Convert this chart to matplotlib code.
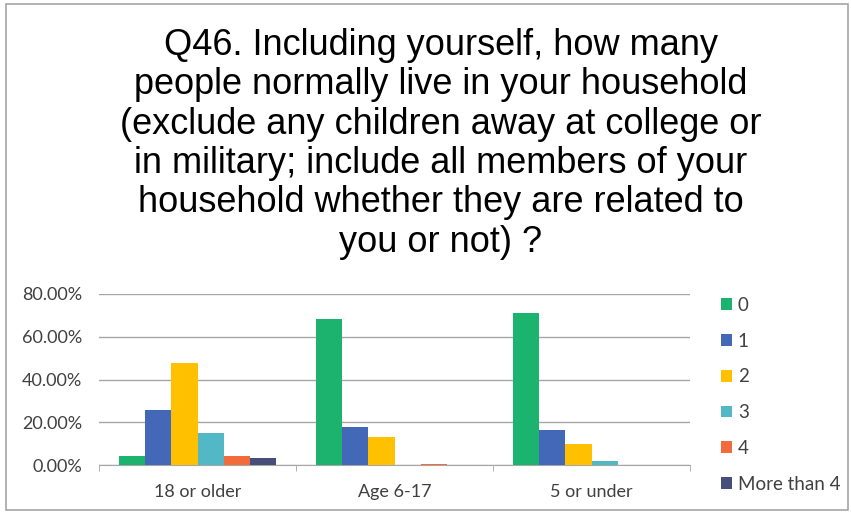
import matplotlib
matplotlib.use("Agg")
import matplotlib.pyplot as plt
import numpy as np

categories = ["18 or older", "Age 6-17", "5 or under"]
series_names = ["0", "1", "2", "3", "4", "More than 4"]
values = {
    "0": [4.0, 68.1, 71.2],
    "1": [25.5, 18.0, 16.2],
    "2": [47.9, 13.1, 10.0],
    "3": [15.2, 0.0, 2.0],
    "4": [4.0, 0.4, 0.0],
    "More than 4": [3.3, 0.0, 0.0],
}
colors = ["#1BB36E", "#4468B8", "#FFC000", "#52B8C6", "#F26B3A", "#474E7C"]
title = ("Q46. Including yourself, how many\n"
         "people normally live in your household\n"
         "(exclude any children away at college or\n"
         "in military; include all members of your\n"
         "household whether they are related to\n"
         "you or not) ?")

fig = plt.figure(figsize=(8.51, 5.13), dpi=100)
# outer chart border
fig.patches.append(plt.Rectangle((6 / 851, 3 / 513), 842 / 851, 506 / 513, transform=fig.transFigure,
                                 fill=False, edgecolor="#A6A6A6", linewidth=1.2))

fig.text(441 / 851, 1 - 28 / 513, title, ha="center", va="top", fontsize=26,
         family="Liberation Sans", linespacing=1.16, color="black")

ax = fig.add_axes([99 / 851, 1 - 465 / 513, 591 / 851, 171 / 513])
x = np.arange(len(categories))
w = 0.8 / len(series_names)
for i, name in enumerate(series_names):
    offs = (i - (len(series_names) - 1) / 2) * w
    ax.bar(x + offs, values[name], width=w, color=colors[i], label=name, zorder=3)

ax.set_xlim(-0.5, len(categories) - 0.5)
ax.set_ylim(0, 80)
ax.set_yticks([0, 20, 40, 60, 80])
ax.set_yticklabels([f"{v:.2f}%" for v in [0, 20, 40, 60, 80]])
ax.set_xticks(x)
ax.set_xticklabels(categories)
ax.set_xticks(np.arange(-0.5, len(categories), 1.0), minor=True)
ax.tick_params(axis="x", which="major", length=0, pad=14)
ax.tick_params(axis="x", which="minor", length=4, color="#A6A6A6")
ax.tick_params(axis="y", length=0, pad=12)
for lab in ax.get_xticklabels() + ax.get_yticklabels():
    lab.set_fontfamily("Lato")
    lab.set_fontsize(13)
    lab.set_color("#404040")
ax.grid(axis="y", color="#A6A6A6", linewidth=1.0, zorder=0)
for s in ["top", "right", "left"]:
    ax.spines[s].set_visible(False)
ax.spines["bottom"].set_color("#A6A6A6")

leg = fig.legend(loc="upper left", bbox_to_anchor=(704 / 851, 1 - 280 / 513), frameon=False,
                 handlelength=0.6, handleheight=0.6, handletextpad=0.3, labelspacing=1.0,
                 prop={"family": "Lato", "size": 13.5})
for t in leg.get_texts():
    t.set_color("#404040")

fig.savefig("out.png", dpi=100, facecolor="white")
